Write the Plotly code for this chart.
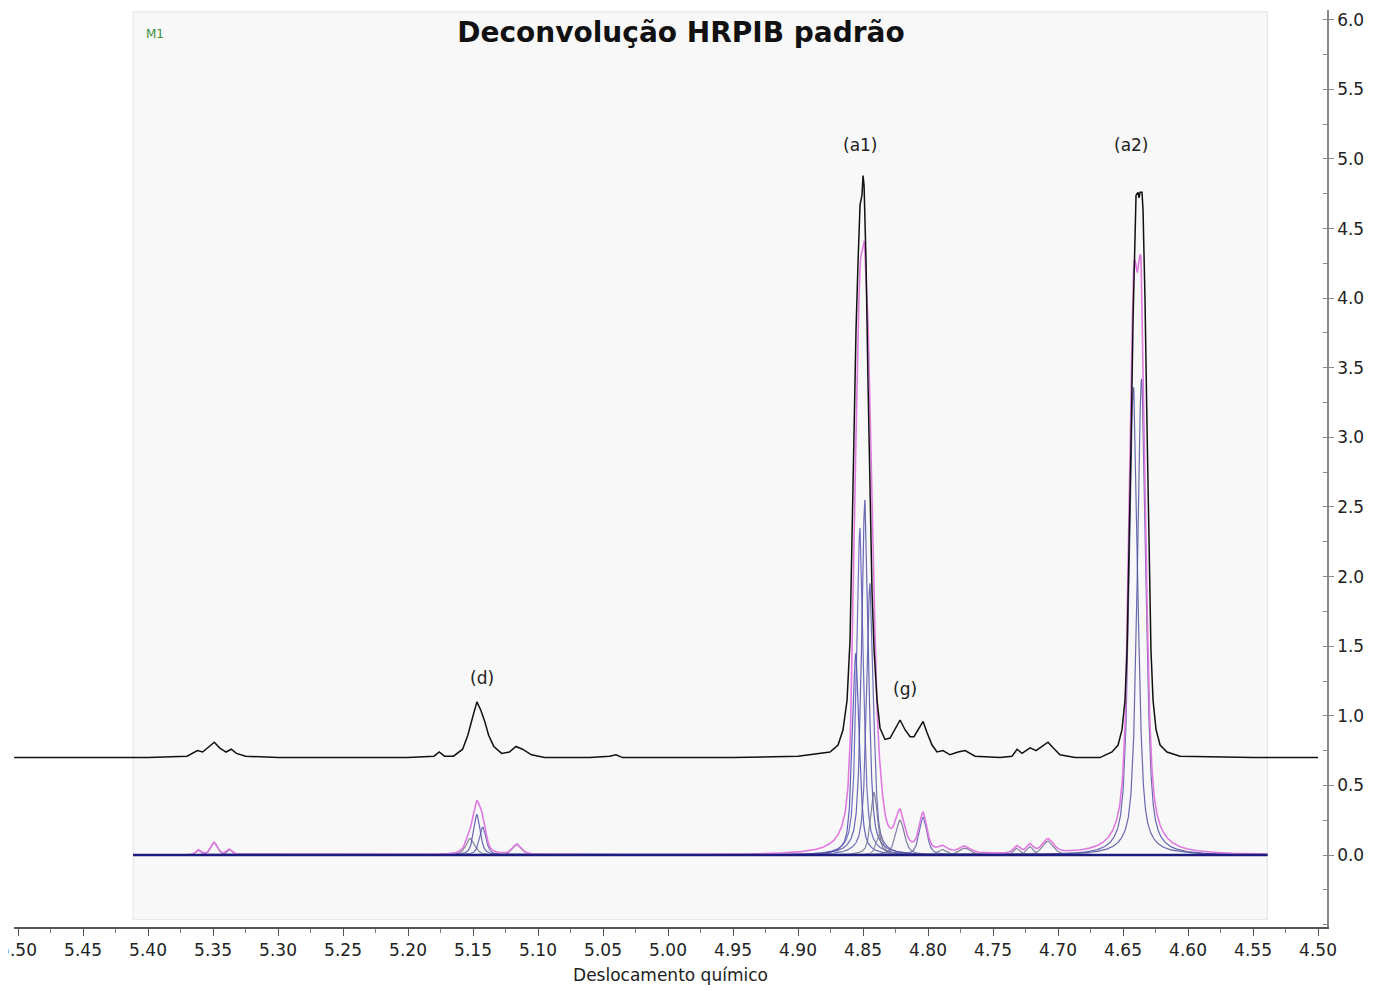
import numpy as np
import plotly.graph_objects as go

# ---------------- data ----------------
# measured spectrum (drawn with an offset of ~0.70)
spec_ppm = [5.503, 5.45, 5.40, 5.37, 5.362, 5.358, 5.352, 5.349, 5.345, 5.340, 5.336, 5.332, 5.325,
            5.30, 5.25, 5.20, 5.18, 5.176, 5.172, 5.165, 5.158, 5.154, 5.150, 5.147, 5.144, 5.141,
            5.138, 5.134, 5.128, 5.122, 5.117, 5.112, 5.105, 5.095, 5.06, 5.045, 5.040, 5.035,
            4.95, 4.90, 4.8754, 4.8692, 4.8654, 4.8623, 4.860, 4.8585, 4.8569, 4.8562, 4.8554,
            4.8538, 4.8523, 4.8508, 4.850, 4.8492, 4.8477, 4.8462, 4.8446, 4.8431, 4.8415, 4.8392,
            4.8369, 4.8331, 4.8292, 4.8254, 4.8215, 4.8177, 4.8138, 4.8108, 4.8069, 4.8038, 4.8008,
            4.7969, 4.7931, 4.7885, 4.7831, 4.7769, 4.7715, 4.7638, 4.7446, 4.7354, 4.7315, 4.7277,
            4.7215, 4.7169, 4.7123, 4.7077, 4.7038, 4.6985, 4.6869, 4.6677, 4.6585, 4.6538, 4.6508,
            4.6485, 4.6469, 4.6454, 4.6438, 4.6423, 4.6408, 4.6400, 4.6385, 4.6377, 4.6369, 4.6354,
            4.6346, 4.6331, 4.6315, 4.6300, 4.6285, 4.6269, 4.6246, 4.6215, 4.6162, 4.6062, 4.55,
            4.500]
spec_int = [0.70, 0.70, 0.70, 0.71, 0.75, 0.74, 0.79, 0.81, 0.77, 0.74, 0.76, 0.73, 0.71,
            0.70, 0.70, 0.70, 0.71, 0.74, 0.71, 0.71, 0.76, 0.86, 1.00, 1.10, 1.04, 0.96,
            0.86, 0.78, 0.73, 0.74, 0.78, 0.76, 0.72, 0.70, 0.70, 0.71, 0.72, 0.70,
            0.70, 0.71, 0.74, 0.79, 0.90, 1.11, 1.54, 2.26, 3.12, 3.53, 3.77,
            4.27, 4.67, 4.74, 4.88, 4.81, 4.27, 3.41, 2.55, 1.90, 1.47, 1.11,
            0.91, 0.83, 0.84, 0.90, 0.97, 0.90, 0.85, 0.85, 0.91, 0.96, 0.88,
            0.79, 0.74, 0.75, 0.72, 0.74, 0.75, 0.71, 0.70, 0.71, 0.76, 0.73,
            0.77, 0.75, 0.78, 0.81, 0.77, 0.72, 0.70, 0.70, 0.74, 0.79, 0.90,
            1.11, 1.47, 2.12, 2.98, 3.84, 4.56, 4.74, 4.76, 4.72, 4.76, 4.76,
            4.63, 3.99, 3.05, 2.12, 1.47, 1.11, 0.90, 0.79, 0.74, 0.71, 0.70,
            0.70]

# deconvolution components: centre (ppm), height, half-width (ppm)
comp_center = [5.361, 5.349, 5.337,
               5.152, 5.147, 5.1425, 5.116,
               4.8555, 4.8523, 4.8485, 4.8446, 4.8415, 4.837,
               4.8215, 4.8038, 4.7885, 4.7715, 4.7315, 4.7215, 4.7077,
               4.6420, 4.6357]
comp_height = [0.035, 0.09, 0.04,
               0.12, 0.29, 0.20, 0.075,
               1.45, 2.35, 2.55, 1.95, 0.45, 0.15,
               0.25, 0.27, 0.04, 0.05, 0.05, 0.06, 0.10,
               3.36, 3.42]
comp_hwhm = [0.0025, 0.003, 0.0025,
             0.004, 0.003, 0.003, 0.004,
             0.0031, 0.0031, 0.0031, 0.0031, 0.0031, 0.003,
             0.004, 0.0035, 0.004, 0.005, 0.003, 0.003, 0.005,
             0.0039, 0.0039]
comp_color = ["#6a5aa8", "#6a5aa8", "#6a5aa8",
              "#707090", "#4f4fa8", "#5a5ab0", "#707090",
              "#4a4ab0", "#5a5ab8", "#4f4fa8", "#5858a8", "#707090", "#808098",
              "#6a6a98", "#5a5aa8", "#707090", "#707090", "#707090", "#707090", "#707090",
              "#5050a0", "#5050a0"]
lorentz_fraction = 0.6   # pseudo-Voigt line-shape mix

fit_start, fit_end = 5.4115, 4.539   # deconvolution window

# ---------------- figure ----------------
x = np.linspace(fit_end, fit_start, 6000)
fig = go.Figure()

comps = []
for c, h, w, col in zip(comp_center, comp_height, comp_hwhm, comp_color):
    u2 = ((x - c) / w) ** 2
    yc = h * (lorentz_fraction / (1.0 + u2) + (1 - lorentz_fraction) * np.exp(-np.log(2) * u2))
    comps.append(yc)
    fig.add_trace(go.Scatter(x=x, y=yc, mode="lines",
                             line=dict(color=col, width=1.2), opacity=0.85,
                             showlegend=False, hoverinfo="skip"))

total = np.sum(comps, axis=0)
fig.add_trace(go.Scatter(x=x, y=total, mode="lines",
                         line=dict(color="#e07ae0", width=1.6),
                         showlegend=False, hoverinfo="skip"))

# baseline of the fit
fig.add_trace(go.Scatter(x=[fit_start, fit_end], y=[0, 0], mode="lines",
                         line=dict(color="#1c1c80", width=2.5),
                         showlegend=False, hoverinfo="skip"))

# measured spectrum
fig.add_trace(go.Scatter(x=spec_ppm, y=spec_int, mode="lines",
                         line=dict(color="#111111", width=1.5),
                         showlegend=False, hoverinfo="skip"))

# shaded deconvolution window
fig.add_shape(type="rect", xref="x", yref="paper", x0=fit_start, x1=fit_end, y0=0.008, y1=0.998,
              fillcolor="#f8f8f8", line=dict(color="#e4e4e4", width=1), layer="below")

labels = ["(a1)", "(a2)", "(d)", "(g)"]
label_x = [4.8523, 4.6438, 5.143, 4.8177]
label_y = [5.10, 5.10, 1.27, 1.19]
for t, lx, ly in zip(labels, label_x, label_y):
    fig.add_annotation(x=lx, y=ly, text=t, showarrow=False,
                       font=dict(family="DejaVu Sans", size=17, color="#222222"))

fig.add_annotation(x=5.3946, y=5.90, text="M1", showarrow=False,
                   font=dict(family="DejaVu Sans", size=12, color="#3d8f3d"))

y_ticks = [0.0, 0.5, 1.0, 1.5, 2.0, 2.5, 3.0, 3.5, 4.0, 4.5, 5.0, 5.5, 6.0]

# page body has an 8px margin: figure is shrunk so it fills the window exactly
fig.update_layout(
    width=1365, height=983,
    margin=dict(l=6, r=46, t=2, b=64),
    paper_bgcolor="white", plot_bgcolor="white",
    title=dict(text="<b>Deconvolução HRPIB padrão</b>", xref="paper", x=0.508, xanchor="center",
               y=0.9756, yanchor="middle",
               font=dict(family="DejaVu Sans", size=28, color="#111111")),
    font=dict(family="DejaVu Sans", size=17, color="#222222"),
    xaxis=dict(range=[5.5031, 4.4931], showgrid=False, zeroline=False, automargin=False,
               showline=True, linecolor="#555555", linewidth=1.5,
               ticks="outside", ticklen=7, tickcolor="#555555", dtick=0.05, tick0=4.5,
               tickformat=".2f", ticklabeloverflow="allow",
               minor=dict(ticks="outside", ticklen=4, dtick=0.025, tickcolor="#777777"),
               title=dict(text="Deslocamento químico", standoff=10,
                          font=dict(family="DejaVu Sans", size=17))),
    yaxis=dict(range=[-0.517, 6.07], side="right", showgrid=False, zeroline=False,
               automargin=False,
               showline=True, linecolor="#888888", linewidth=1.5,
               ticks="outside", ticklen=5, tickcolor="#888888",
               tickvals=y_ticks, tickformat=".1f",
               minor=dict(ticks="inside", ticklen=4, dtick=0.25, tickcolor="#888888")),
)

fig.write_html("out.html")
